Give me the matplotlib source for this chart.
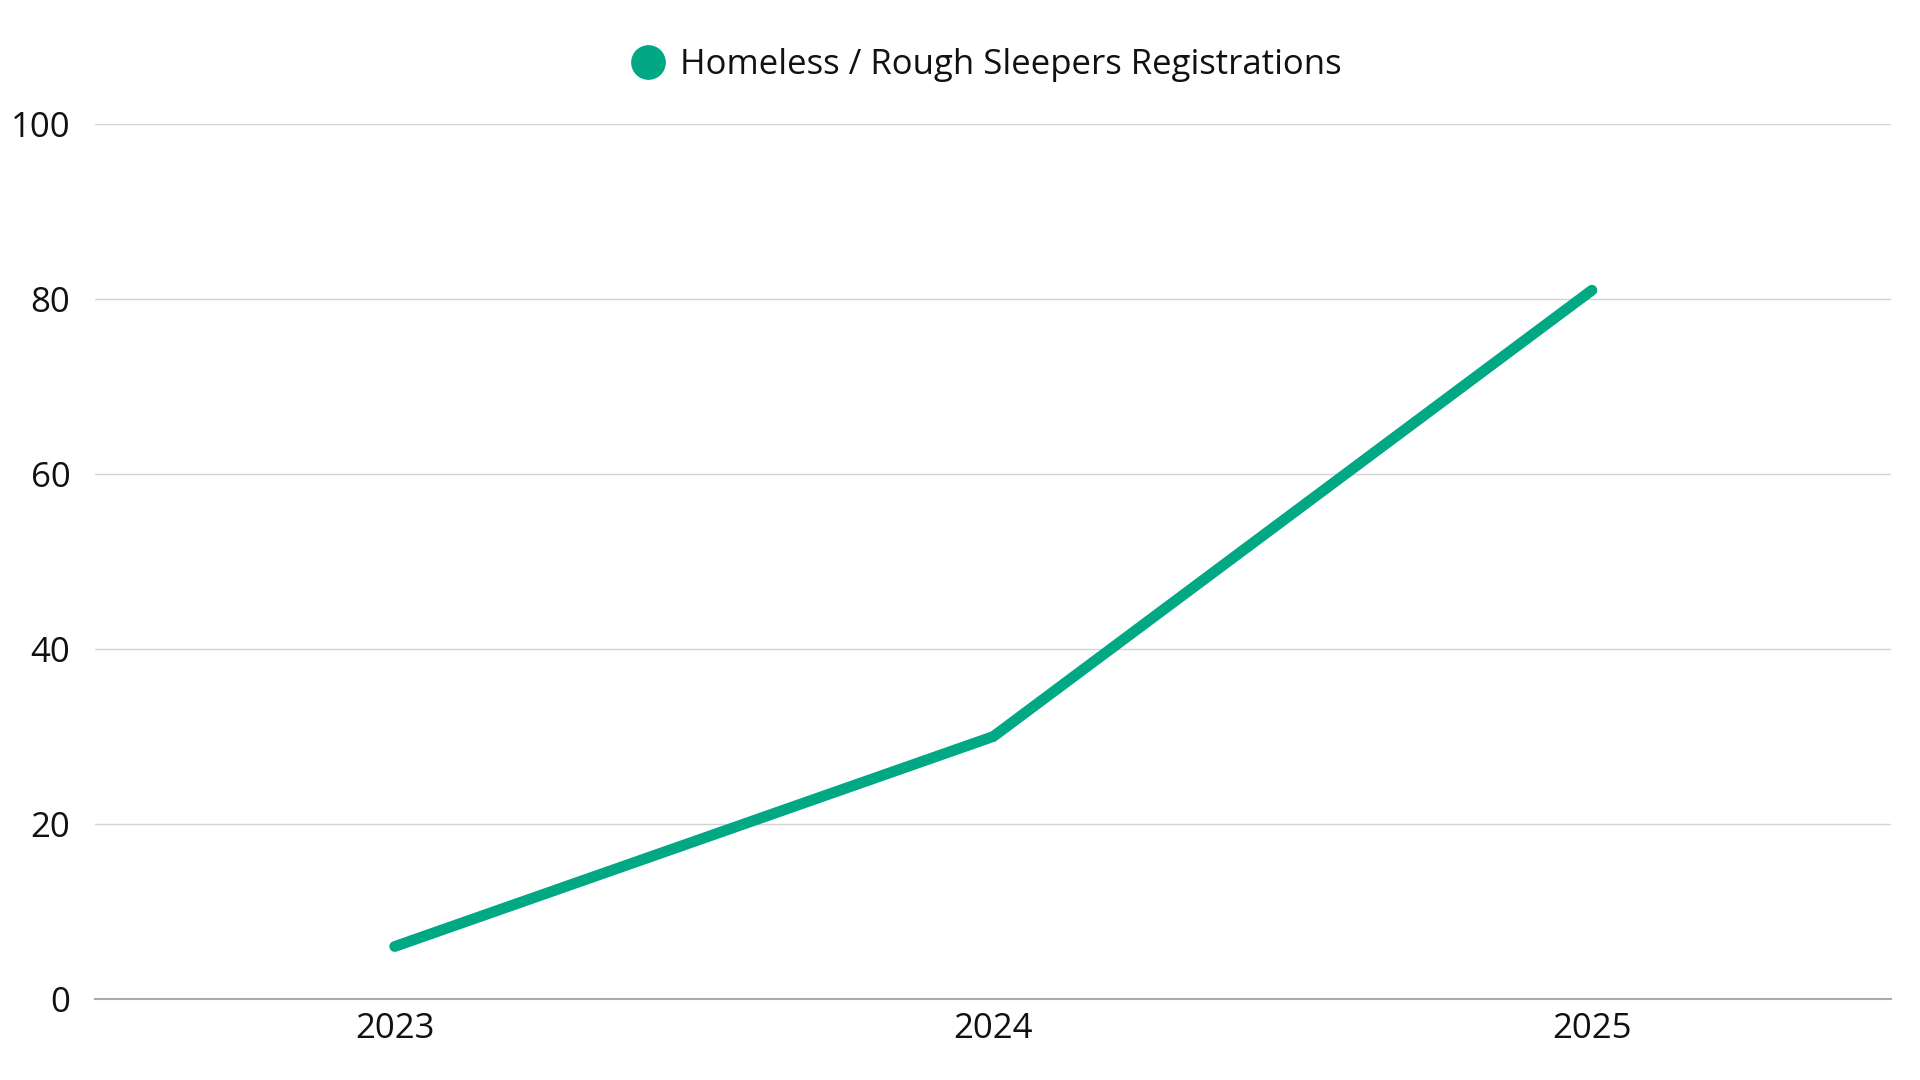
import matplotlib.pyplot as plt
from matplotlib.lines import Line2D

# data
years = ['2023', '2024', '2025']
registrations = [6, 30, 81]
series_name = 'Homeless / Rough Sleepers Registrations'
y_ticks = [0, 20, 40, 60, 80, 100]

green = '#00A984'

plt.rcParams['font.family'] = ['Open Sans', 'DejaVu Sans']

fig = plt.figure(figsize=(19.2, 10.8), dpi=100)
ax = fig.add_axes([0.0497, 0.075, 0.9353, 0.8102])

x = list(range(len(years)))
ax.plot(x, registrations, color=green, lw=7.8, solid_capstyle='round',
        solid_joinstyle='miter')

ax.set_xlim(-0.5, len(years) - 0.5)
ax.set_ylim(0, 100)
ax.set_xticks(x)
ax.set_xticklabels(years)
ax.set_yticks(y_ticks)

# grid and spines
ax.grid(axis='y', color='#d3d3d3', lw=1)
ax.set_axisbelow(True)
for s in ['top', 'right', 'left']:
    ax.spines[s].set_visible(False)
ax.spines['bottom'].set_color('#aaaaaa')
ax.spines['bottom'].set_linewidth(1.5)

ax.tick_params(axis='both', length=0, labelsize=25, colors='#111111')
ax.tick_params(axis='x', pad=9)
ax.tick_params(axis='y', pad=18)

# legend at top
handle = Line2D([], [], marker='o', color=green, lw=0, markersize=24)
leg = ax.legend([handle], [series_name], loc='lower center',
                bbox_to_anchor=(0.496, 1.012), frameon=False, fontsize=25,
                handletextpad=0.45, handlelength=1.0)
for t in leg.get_texts():
    t.set_color('#111111')

fig.savefig('out.png', dpi=100, facecolor='white')
